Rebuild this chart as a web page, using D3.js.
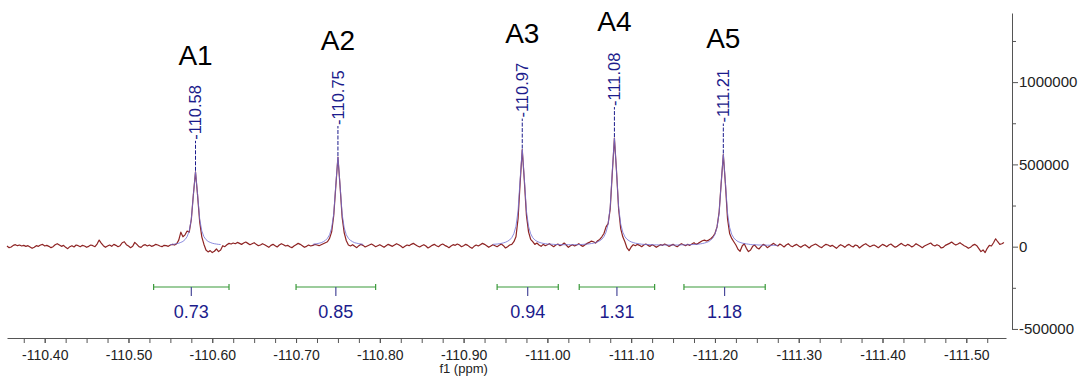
<!DOCTYPE html>
<html>
<head>
<meta charset="utf-8">
<script src="https://cdn.jsdelivr.net/npm/d3@7"></script>
<style>
  html, body { margin: 0; padding: 0; background: #fff; }
  svg { display: block; font-family: "Liberation Sans", Arial, Helvetica, sans-serif; }
</style>
</head>
<body>
<svg id="chart" width="1079" height="376"></svg>
<script>
// 19F NMR region: raw spectrum sampled on a uniform ppm grid (intensity in thousands)
const spectrumStartPpm = -110.355;
const spectrumStepPpm = -0.0025;
const spectrumIntensity = [
  4, -6, -2, 8, 12, 6, 10, 4, 8, 2, 6, -2, -10, -4, 6, 2, 10, 14, 4, 8,
  2, -6, 0, 12, 18, 10, 2, 8, -4, -12, 0, 6, -2, 10, 6, 0, 8, 4, -4, 2,
  10, 6, 0, 16, 40, 22, 6, -4, 4, 10, 2, 14, 8, 0, 6, 24, 30, 12, 4, -6,
  2, 26, 14, 0, -4, 8, 12, 4, 10, 2, 6, 14, 10, 4, 0, 8, 6, 2, 10, 14,
  10, 18, 40, 88, 60, 72, 95, 88, 165, 320, 455, 310, 150, 60, 15, -20, -32, -24, -36, -28,
  -14, -30, -20, 6, 0, 12, 20, 16, 22, 18, 26, 20, 14, 22, 28, 20, 12, 18, 24, 14,
  6, 10, 18, 12, 4, -4, 8, 14, 6, -2, 10, 18, 12, 4, 8, 0, -6, 4, 12, 20,
  14, 6, -4, 2, 10, 4, 8, 14, 10, 6, 12, 18, 24, 30, 50, 90, 190, 370, 545, 370,
  180, 84, 36, 10, 4, 12, 2, -6, 6, 14, 8, -2, 4, 10, 16, 8, 0, 6, 12, 4,
  -4, 6, 14, 8, 2, 10, 18, 12, 4, -6, 2, 10, 6, 14, 20, 12, 4, -2, 6, 12,
  4, -8, 0, 8, 14, 6, 0, 10, 16, 8, 2, -6, 4, 12, 8, 16, 10, 0, 6, 14,
  8, -2, -10, 2, 10, 4, 12, 20, 14, 6, -4, 4, 12, 6, 0, 8, 16, 6, -8, 0,
  10, 14, 30, 60, 170, 390, 590, 400, 190, 90, 45, 30, 14, 22, 10, 2, 14, 6, 12, 18,
  8, 0, 10, 16, 6, 12, 22, 10, -4, 6, 12, 4, 10, 18, 8, 2, 12, 20, 26, 34,
  30, 22, 36, 44, 60, 80, 120, 140, 230, 450, 660, 460, 230, 110, 60, 30, -8, -24, -2, 12,
  6, 14, 8, 0, 10, 16, 8, 2, 12, 6, -4, 4, 12, 8, 16, 10, 2, 8, 14, 6,
  0, 10, 18, 12, 6, 14, 8, 16, 24, 14, 20, 28, 36, 40, 34, 40, 48, 60, 80, 120,
  210, 390, 560, 380, 170, 80, 50, 30, 10, -16, -28, 4, 18, -10, -30, -20, 2, 10, -6, -14,
  0, 14, 8, -6, 2, 12, 20, 10, 4, 16, 8, -2, 10, 18, 6, 0, 8, 14, 4, -4,
  6, 12, 2, -8, 4, 10, 16, 8, 0, -6, 6, 14, 10, 2, 8, 0, -10, 2, 12, 6,
  -4, 8, 14, 4, -2, 10, 6, -8, 2, 12, 18, 8, 0, 6, 10, 2, -6, 4, 14, 8,
  0, 10, 16, 6, -4, 2, 12, 20, 10, 4, 14, 8, -2, 6, 18, 10, 2, -6, 4, 10,
  16, 22, 10, 4, 12, 6, -8, -4, 8, 14, 20, 28, 18, 10, 16, 24, 14, 6, 0, -10,
  -4, 8, 14, 6, -12, -30, -20, -36, -10, 8, 4, 24, 48, 30, 14, 18, 26
];

// Line-fit (deconvolution) curves, same grid spacing, intensity in thousands
const fitA1Start = -110.55;
const fitA1 = [13, 14, 16, 18, 21, 26, 32, 43, 61, 96, 168, 316, 455, 316, 168, 96, 61, 43, 32, 26, 21, 18, 16, 14, 13];
const fitA2Start = -110.72;
const fitA2 = [14, 16, 18, 21, 24, 30, 38, 51, 72, 114, 200, 378, 545, 378, 200, 114, 72, 51, 38, 30, 24, 21, 18, 16, 14];
const fitA345Start = -110.935;
const fitA345 = [
  14, 15, 16, 18, 20, 23, 27, 33, 41, 55, 79, 124, 217, 411, 590, 411, 217, 124, 79, 55,
  41, 33, 27, 23, 20, 18, 16, 16, 15, 14, 13, 13, 12, 12, 12, 12, 12, 12, 12, 12,
  12, 13, 13, 14, 15, 16, 17, 19, 21, 25, 29, 36, 45, 61, 88, 138, 242, 460, 660, 460,
  242, 138, 88, 61, 45, 36, 29, 25, 21, 19, 17, 15, 14, 13, 13, 12, 12, 11, 11, 11,
  10, 10, 10, 10, 10, 10, 10, 10, 10, 10, 11, 11, 11, 12, 12, 13, 13, 14, 15, 17,
  19, 22, 26, 31, 40, 53, 75, 118, 206, 390, 560, 390, 206, 118, 75, 53, 40, 31, 26, 22,
  19, 17, 15, 13, 12, 12, 11, 10, 10, 9, 9, 9, 9, 8, 8, 8, 8
];

// Peak picking
const peakNames = ["A1", "A2", "A3", "A4", "A5"];
const peakShifts = [-110.58, -110.75, -110.97, -111.08, -111.21];

// Integrals
const integralFrom = [-110.53, -110.70, -110.94, -111.038, -111.163];
const integralTo = [-110.62, -110.795, -111.013, -111.128, -111.26];
const integralValues = [0.73, 0.85, 0.94, 1.31, 1.18];

// Axes
const xTickValues = [-110.4, -110.5, -110.6, -110.7, -110.8, -110.9, -111.0, -111.1, -111.2, -111.3, -111.4, -111.5];
const xTickLabels = ["-110.40", "-110.50", "-110.60", "-110.70", "-110.80", "-110.90", "-111.00", "-111.10", "-111.20", "-111.30", "-111.40", "-111.50"];
const yTickValues = [-500000, 0, 500000, 1000000];
const yTickLabels = ["-500000", "0", "500000", "1000000"];
const xAxisTitle = "f1 (ppm)";

// ---------------------------------------------------------------
const svg = d3.select("#chart");
const x = d3.scaleLinear().domain([-110.355, -111.5474]).range([7, 1006]);
const y = d3.scaleLinear().domain([-555000, 1420000]).range([338, 13]);

const spectrum = spectrumIntensity.map((v, i) => ({ ppm: spectrumStartPpm + i * spectrumStepPpm, v: v * 1000 }));
const toSeries = (start, vals) => vals.map((v, i) => ({ ppm: start + i * spectrumStepPpm, v: v * 1000 }));
const fits = [toSeries(fitA1Start, fitA1), toSeries(fitA2Start, fitA2), toSeries(fitA345Start, fitA345)];

const line = d3.line().x(d => x(d.ppm)).y(d => y(d.v));

// raw spectrum
svg.append("path")
  .datum(spectrum)
  .attr("d", line)
  .attr("fill", "none")
  .attr("stroke", "#8e2424")
  .attr("stroke-width", 1.2)
  .attr("stroke-linejoin", "round");

// fitted lineshapes
svg.append("g").selectAll("path")
  .data(fits)
  .join("path")
  .attr("d", line)
  .attr("fill", "none")
  .attr("stroke", "#6f6fd6")
  .attr("stroke-opacity", 0.8)
  .attr("stroke-width", 1);

// bottom axis: minor ticks every 0.025 ppm, labelled ticks every 0.1 ppm
const minorTicks = d3.range(0, 47).map(k => -110.375 - k * 0.025);
const gxMinor = svg.append("g").attr("transform", "translate(0,338)")
  .call(d3.axisBottom(x).tickValues(minorTicks).tickSize(5).tickSizeOuter(0).tickFormat(""));
const gx = svg.append("g").attr("transform", "translate(0,338)")
  .call(d3.axisBottom(x).tickValues(xTickValues).tickSize(5).tickSizeOuter(0)
    .tickFormat((d, i) => xTickLabels[i]));
gxMinor.select(".domain").attr("stroke", "#555");
gx.select(".domain").remove();
[gxMinor, gx].forEach(g => g.selectAll(".tick line").attr("stroke", "#555"));
gx.selectAll(".tick text")
  .attr("y", 22).attr("dy", 0)
  .attr("font-size", 14)
  .attr("font-family", "Liberation Sans, Arial, sans-serif")
  .attr("fill", "#222");

svg.append("text")
  .attr("x", x(-110.9)).attr("y", 373)
  .attr("text-anchor", "middle")
  .attr("font-size", 13)
  .attr("fill", "#222")
  .text(xAxisTitle);

// right axis
const yAxisScale = y.copy().domain([-500000, 1420000]).range([y(-500000), y(1420000)]);
const gyMinor = svg.append("g").attr("transform", "translate(1012,0)")
  .call(d3.axisRight(yAxisScale).tickValues([-250000, 250000, 750000, 1250000]).tickSize(4).tickSizeOuter(0).tickFormat(""));
const gy = svg.append("g").attr("transform", "translate(1012,0)")
  .call(d3.axisRight(yAxisScale).tickValues(yTickValues).tickSize(6).tickPadding(1).tickSizeOuter(0)
    .tickFormat((d, i) => yTickLabels[i]));
gyMinor.select(".domain").attr("stroke", "#555");
gy.select(".domain").remove();
[gyMinor, gy].forEach(g => g.selectAll(".tick line").attr("stroke", "#555"));
gy.selectAll(".tick text")
  .attr("font-size", 15)
  .attr("font-family", "Liberation Sans, Arial, sans-serif")
  .attr("fill", "#222");

// peak labels
const navy = "#1c1c8c";
const peakTop = ppm => {
  const i = Math.round((ppm - spectrumStartPpm) / spectrumStepPpm);
  return spectrum[i].v;
};
const peaks = peakShifts.map((ppm, i) => ({ ppm, name: peakNames[i], px: x(ppm), py: y(peakTop(ppm)) }));

const gp = svg.append("g");
gp.selectAll("line")
  .data(peaks)
  .join("line")
  .attr("x1", d => d.px).attr("x2", d => d.px)
  .attr("y1", d => d.py - 1).attr("y2", d => d.py - 31)
  .attr("stroke", navy)
  .attr("stroke-width", 1)
  .attr("stroke-dasharray", "4,1.5");
gp.selectAll("text.shift")
  .data(peaks)
  .join("text")
  .attr("class", "shift")
  .attr("transform", d => `translate(${d.px},${d.py - 32}) rotate(-90)`)
  .attr("dy", "0.36em")
  .attr("font-size", 16.5)
  .attr("fill", navy)
  .text(d => d.ppm.toFixed(2));
gp.selectAll("text.name")
  .data(peaks)
  .join("text")
  .attr("class", "name")
  .attr("x", d => d.px)
  .attr("y", d => d.py - 107)
  .attr("text-anchor", "middle")
  .attr("font-size", 28)
  .attr("fill", "#000")
  .text(d => d.name);

// integrals
const integrals = integralValues.map((v, i) => ({ v, a: x(integralFrom[i]), b: x(integralTo[i]) }));
const gi = svg.append("g");
const green = "#3b9a3b";
gi.selectAll("line.bar").data(integrals).join("line").attr("class", "bar")
  .attr("x1", d => d.a).attr("x2", d => d.b).attr("y1", 287).attr("y2", 287)
  .attr("stroke", green).attr("stroke-width", 1.2);
gi.selectAll("line.capa").data(integrals).join("line").attr("class", "capa")
  .attr("x1", d => d.a).attr("x2", d => d.a).attr("y1", 284).attr("y2", 290)
  .attr("stroke", green).attr("stroke-width", 1.2);
gi.selectAll("line.capb").data(integrals).join("line").attr("class", "capb")
  .attr("x1", d => d.b).attr("x2", d => d.b).attr("y1", 284).attr("y2", 290)
  .attr("stroke", green).attr("stroke-width", 1.2);
gi.selectAll("line.mid").data(integrals).join("line").attr("class", "mid")
  .attr("x1", d => (d.a + d.b) / 2).attr("x2", d => (d.a + d.b) / 2).attr("y1", 287).attr("y2", 296)
  .attr("stroke", "#4a4a9a").attr("stroke-width", 1.2);
gi.selectAll("text").data(integrals).join("text")
  .attr("x", d => (d.a + d.b) / 2).attr("y", 318)
  .attr("text-anchor", "middle")
  .attr("font-size", 18)
  .attr("fill", navy)
  .text(d => d.v.toFixed(2));
</script>
</body>
</html>
